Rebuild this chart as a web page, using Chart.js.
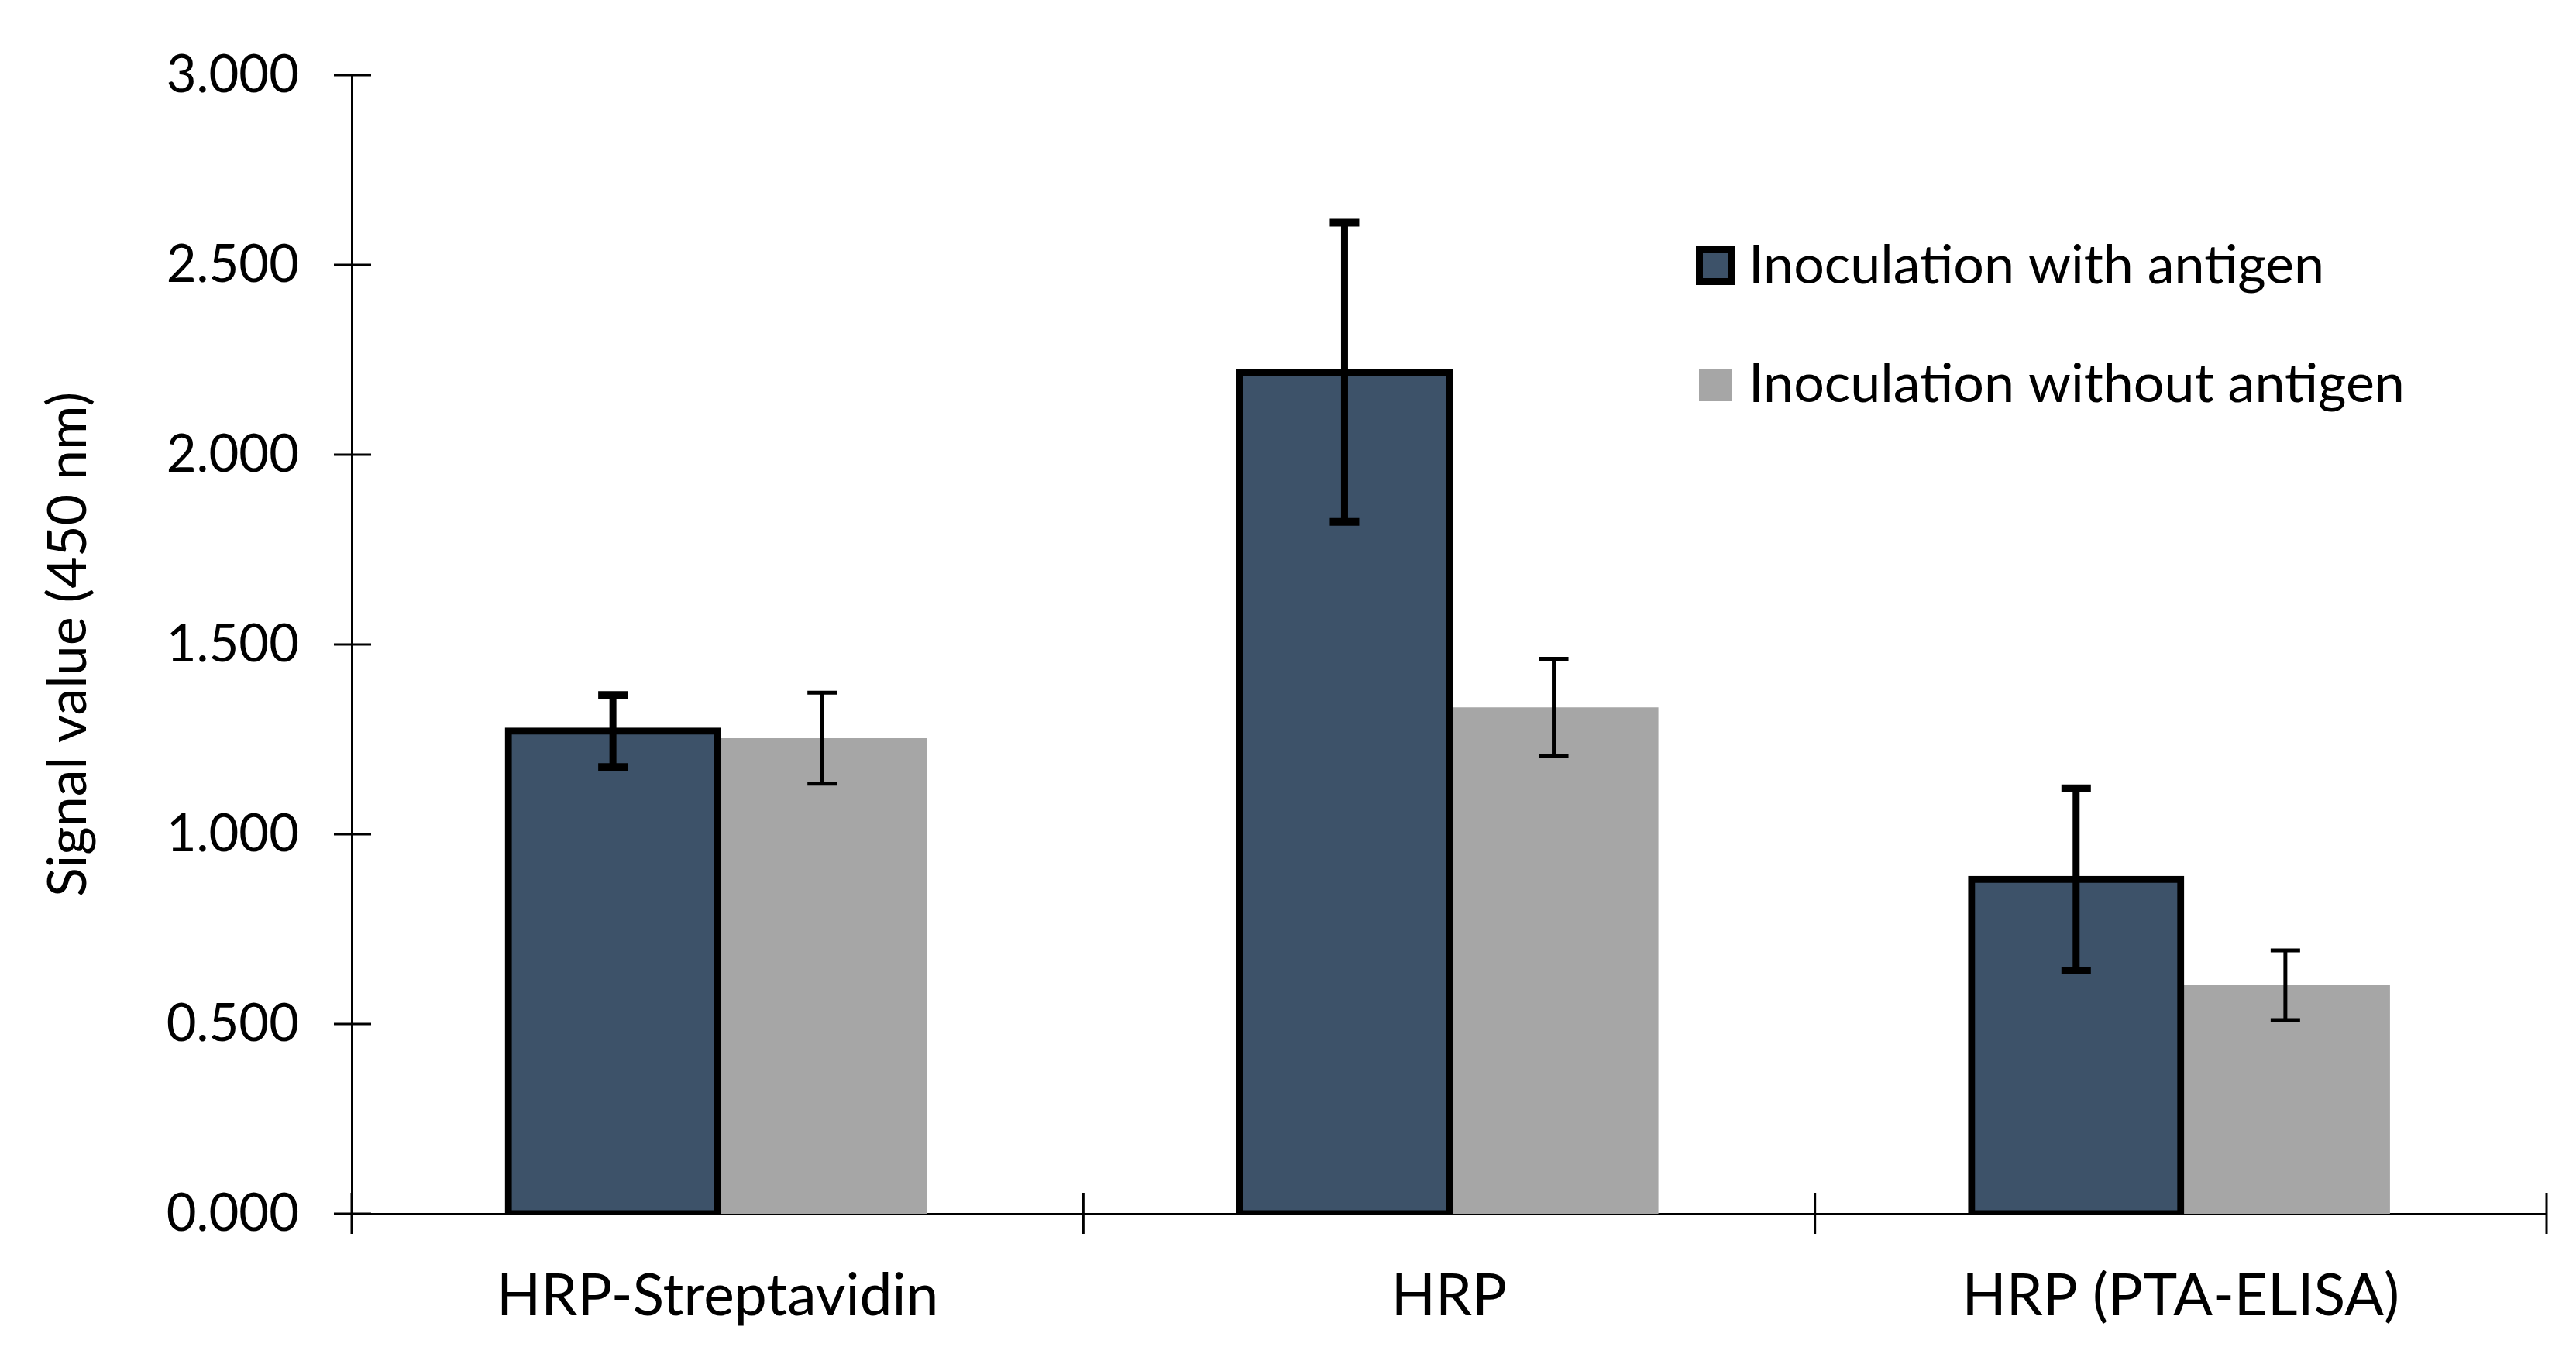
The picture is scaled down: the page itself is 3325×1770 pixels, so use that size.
<!DOCTYPE html>
<html>
<head>
<meta charset="utf-8">
<script src="https://cdn.jsdelivr.net/npm/chart.js@4.4.1/dist/chart.umd.min.js"></script>
<style>
  html, body { margin: 0; padding: 0; background: #ffffff; }
  #wrap { width: 3325px; height: 1770px; }
</style>
</head>
<body>
<div id="wrap"><canvas id="c" width="3325" height="1770"></canvas></div>
<script>
const categories = ["HRP-Streptavidin", "HRP", "HRP (PTA-ELISA)"];
const seriesNames = ["Inoculation with antigen", "Inoculation without antigen"];
const withAntigen = [1.272, 2.217, 0.881];
const withAntigenErr = [0.095, 0.394, 0.240];
const withoutAntigen = [1.253, 1.334, 0.602];
const withoutAntigenErr = [0.120, 0.128, 0.092];
const yTicks = [0, 0.5, 1.0, 1.5, 2.0, 2.5, 3.0];

const FONT = "Lato";

const errorBarsPlugin = {
  id: 'errorBars',
  afterDatasetsDraw(chart) {
    const ctx = chart.ctx;
    const yScale = chart.scales.y;
    chart.data.datasets.forEach((ds, i) => {
      const meta = chart.getDatasetMeta(i);
      const st = ds.errStyle;
      meta.data.forEach((el, j) => {
        const v = ds.data[j], e = ds.errors[j];
        const yT = yScale.getPixelForValue(v + e);
        const yB = yScale.getPixelForValue(v - e);
        const x = el.x;
        ctx.save();
        ctx.strokeStyle = '#000';
        ctx.lineWidth = st.line;
        ctx.beginPath(); ctx.moveTo(x, yT); ctx.lineTo(x, yB); ctx.stroke();
        ctx.lineWidth = st.cap;
        ctx.beginPath();
        ctx.moveTo(x - st.capW / 2, yT); ctx.lineTo(x + st.capW / 2, yT);
        ctx.moveTo(x - st.capW / 2, yB); ctx.lineTo(x + st.capW / 2, yB);
        ctx.stroke();
        ctx.restore();
      });
    });
  }
};

const axisTicksPlugin = {
  id: 'axisTicks',
  afterDraw(chart) {
    const ctx = chart.ctx;
    const x = chart.scales.x, y = chart.scales.y;
    const ax = y.right, ay = x.top;
    ctx.save();
    ctx.strokeStyle = '#000';
    ctx.lineWidth = 3;
    y.ticks.forEach(t => {
      const py = y.getPixelForValue(t.value);
      ctx.beginPath(); ctx.moveTo(ax - 23, py); ctx.lineTo(ax + 25, py); ctx.stroke();
    });
    const half = (x.getPixelForValue(1) - x.getPixelForValue(0)) / 2;
    for (let i = 0; i <= categories.length; i++) {
      const px = x.getPixelForValue(0) - half + 2 * half * i;
      ctx.beginPath(); ctx.moveTo(px, ay - 27); ctx.lineTo(px, ay + 26); ctx.stroke();
    }
    ctx.restore();
  }
};

const legendPlugin = {
  id: 'customLegend',
  afterDraw(chart) {
    const ctx = chart.ctx;
    const ds = chart.data.datasets;
    ctx.save();
    ctx.font = "70px " + FONT;
    ctx.textBaseline = 'alphabetic';
    ctx.fillStyle = '#000';
    ctx.fillRect(2189, 318, 50, 50);
    ctx.fillStyle = ds[0].backgroundColor;
    ctx.fillRect(2198, 327, 32, 32);
    ctx.fillStyle = '#000';
    ctx.fillText(ds[0].label, 2257, 366);
    ctx.fillStyle = ds[1].backgroundColor;
    ctx.fillRect(2193, 476, 42, 42);
    ctx.fillStyle = '#000';
    ctx.fillText(ds[1].label, 2257, 519);
    ctx.restore();
  }
};

new Chart(document.getElementById('c'), {
  type: 'bar',
  data: {
    labels: categories,
    datasets: [
      {
        label: seriesNames[0],
        data: withAntigen,
        errors: withAntigenErr,
        errStyle: { line: 9, cap: 10, capW: 38 },
        backgroundColor: '#3D5269',
        borderColor: '#000000',
        borderWidth: 9,
        borderSkipped: false,
        inflateAmount: 4.5
      },
      {
        label: seriesNames[1],
        data: withoutAntigen,
        errors: withoutAntigenErr,
        errStyle: { line: 5, cap: 5, capW: 38 },
        backgroundColor: '#A6A6A6',
        borderWidth: 0,
        inflateAmount: 0
      }
    ]
  },
  options: {
    responsive: false,
    animation: false,
    devicePixelRatio: 1,
    layout: { padding: { top: 97, right: 38, left: 0, bottom: 0 } },
    plugins: {
      legend: { display: false },
      tooltip: { enabled: false }
    },
    datasets: { bar: { categoryPercentage: 0.572, barPercentage: 1.0 } },
    scales: {
      x: {
        grid: { display: false, drawTicks: false },
        border: { display: true, color: '#000', width: 3 },
        ticks: { color: '#000', font: { family: FONT, size: 75 }, padding: 62, maxRotation: 0 },
        afterFit(s) { s.height = 203; }
      },
      y: {
        min: 0, max: 3,
        afterBuildTicks(s) { s.ticks = yTicks.map(v => ({ value: v })); },
        grid: { display: false, drawTicks: true, tickLength: 68 },
        border: { display: true, color: '#000', width: 3 },
        ticks: {
          color: '#000', font: { family: FONT, size: 67 }, padding: 0,
          callback: v => Number(v).toFixed(3)
        },
        title: {
          display: true, text: 'Signal value (450 nm)', color: '#000',
          font: { family: FONT, size: 70 }, padding: { top: 46, bottom: 0 }
        },
        afterFit(s) { s.width = 454; }
      }
    }
  },
  plugins: [errorBarsPlugin, axisTicksPlugin, legendPlugin]
});
</script>
</body>
</html>
